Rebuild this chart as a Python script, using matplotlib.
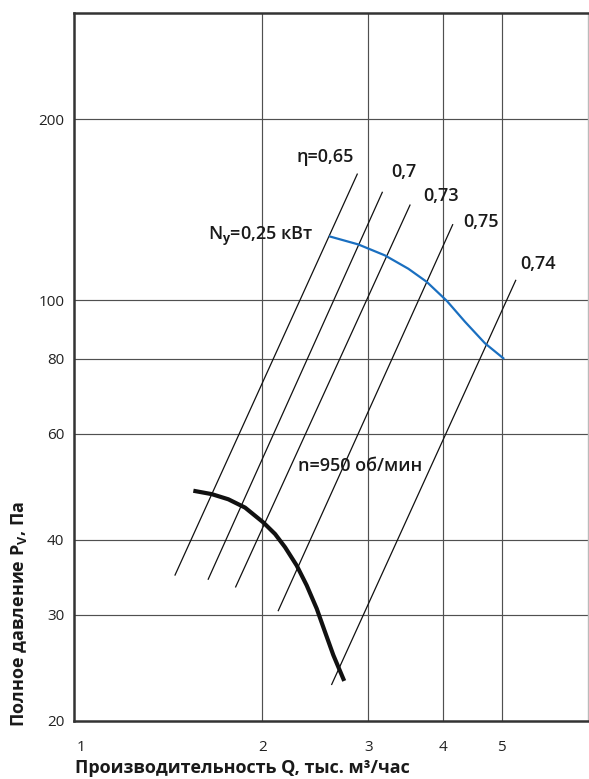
import matplotlib
matplotlib.use("Agg")
import matplotlib.pyplot as plt

plt.rcParams['font.family'] = ['Open Sans', 'DejaVu Sans']
plt.rcParams['mathtext.fontset'] = 'custom'
plt.rcParams['mathtext.rm'] = 'Open Sans:bold'
plt.rcParams['mathtext.bf'] = 'Open Sans:bold'

# кривая давления при n=950 об/мин
q_fan = [1.537, 1.649, 1.757, 1.873, 2.008, 2.101, 2.183, 2.282, 2.371,
         2.464, 2.543, 2.625, 2.737]
p_fan = [48.25, 47.63, 46.7, 45.24, 42.75, 40.89, 38.87, 36.25, 33.6,
         30.73, 28.12, 25.74, 23.31]

# кривая мощности Ny=0,25 кВт
q_pow = [2.592, 2.888, 3.199, 3.498, 3.752, 4.051, 4.344, 4.690, 5.03]
p_pow = [127.6, 123.8, 118.7, 112.8, 107.3, 99.8, 92.1, 84.8, 80.1]

# линии КПД: (Q низ, P низ, Q верх, P верх)
eta_names = ['η=0,65', '0,7', '0,73', '0,75', '0,74']
eta_q_lo = [1.433, 1.627, 1.807, 2.127, 2.609]
eta_p_lo = [34.95, 34.4, 33.4, 30.5, 23.0]
eta_q_hi = [2.877, 3.166, 3.52, 4.144, 5.274]
eta_p_hi = [162.0, 151.1, 143.9, 133.5, 107.9]
eta_lab_q = [2.547, 3.44, 3.963, 4.618, 5.743]
eta_lab_p = [172.8, 163.2, 148.9, 134.9, 115.0]

x_ticks = [1, 2, 3, 4, 5]
y_ticks = [20, 30, 40, 60, 80, 100, 200]

fig = plt.figure(figsize=(5.89, 7.79), dpi=100)
ax = fig.add_axes([0.1256, 0.0745, 0.8727, 0.9082])
ax.set_xscale('log')
ax.set_yscale('log')
ax.set_xlim(0.9736, 6.954)
ax.set_ylim(20.28, 299.5)

for x in x_ticks[1:]:
    ax.axvline(x, color='#505050', lw=0.85, zorder=1)
for y in y_ticks[1:]:
    ax.axhline(y, color='#505050', lw=0.85, zorder=1)

for i in range(len(eta_names)):
    ax.plot([eta_q_lo[i], eta_q_hi[i]], [eta_p_lo[i], eta_p_hi[i]],
            color='#111111', lw=0.9, zorder=2)
    ax.text(eta_lab_q[i], eta_lab_p[i], eta_names[i], ha='center', va='center',
            fontsize=13, fontweight='semibold', color='#1a1a1a')

ax.plot(q_fan, p_fan, color='#111111', lw=3, solid_capstyle='butt',
        solid_joinstyle='round', zorder=3)
ax.plot(q_pow, p_pow, color='#1a6fc0', lw=1.6, solid_joinstyle='round', zorder=3)

ax.text(2.429, 127.6, r'N$_\mathrm{y}$=0,25 кВт', ha='right', va='center',
        fontsize=13, fontweight='semibold', color='#1a1a1a')
ax.text(2.908, 53.1, 'n=950 об/мин', ha='center', va='center',
        fontsize=13, fontweight='semibold', color='#1a1a1a')

ax.minorticks_off()
ax.set_xticks(x_ticks)
ax.set_xticklabels([str(v) for v in x_ticks])
ax.set_yticks(y_ticks)
ax.set_yticklabels([str(v) for v in y_ticks])
ax.tick_params(length=0, labelsize=11, colors='#222222')
ax.tick_params(axis='x', pad=14)
ax.tick_params(axis='y', pad=7)

for s in ['left', 'bottom', 'top']:
    ax.spines[s].set_color('#333333')
    ax.spines[s].set_linewidth(1.8)
ax.spines['right'].set_color('#bbbbbb')
ax.spines['right'].set_linewidth(1.0)

fig.text(242 / 589, 1 - 768 / 779, 'Производительность Q, тыс. м³/час',
         ha='center', va='center', fontsize=13, fontweight='bold', color='#1a1a1a')
fig.text(19 / 589, 1 - 614 / 779, r'Полное давление P$_\mathrm{V}$, Па',
         ha='center', va='center', rotation=90, fontsize=13, fontweight='bold',
         color='#1a1a1a')

fig.savefig('out.png', dpi=100)
